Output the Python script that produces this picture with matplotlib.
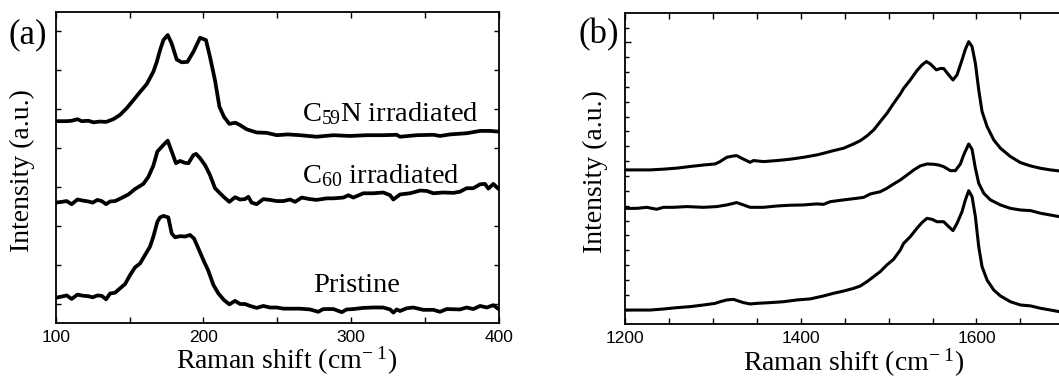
import matplotlib
matplotlib.use("Agg")
import matplotlib.pyplot as plt
from matplotlib.ticker import MultipleLocator, FixedLocator

plt.rcParams['font.family'] = ['Liberation Serif', 'DejaVu Serif']
plt.rcParams['mathtext.fontset'] = 'custom'
plt.rcParams['mathtext.rm'] = 'Liberation Serif'
plt.rcParams['mathtext.it'] = 'Liberation Serif:italic'
plt.rcParams['mathtext.bf'] = 'Liberation Serif:bold'

# ---------------- Panel (a): low-frequency Raman ----------------
a_c59n_x = [100, 107.4, 110.8, 114.7, 117.6, 122.1, 125.5, 130, 134.1, 139, 143.5, 148, 152.6,
            157.1, 161.6, 166.1, 168.4, 170.6, 172.9, 175.8, 178.5, 181.9, 185.3, 189.1, 193.2,
            197.7, 201.7, 204.4, 207.8, 210.8, 213.9, 217.5, 221.6, 224.7, 229.3, 236, 242.8,
            249.6, 257, 265.3, 276.6, 287.9, 299, 310.5, 321.7, 330.8, 333, 344.3, 355.6, 360.1,
            366.9, 378.1, 387.2, 393.9, 400]
a_c59n_y = [4.69, 4.69, 4.70, 4.74, 4.69, 4.70, 4.66, 4.68, 4.67, 4.74, 4.85, 5.02, 5.23,
            5.44, 5.64, 5.96, 6.21, 6.51, 6.77, 6.90, 6.68, 6.27, 6.20, 6.21, 6.47,
            6.83, 6.77, 6.34, 5.74, 5.06, 4.80, 4.62, 4.65, 4.59, 4.48, 4.40, 4.39,
            4.33, 4.35, 4.33, 4.29, 4.33, 4.31, 4.33, 4.33, 4.34, 4.29, 4.33, 4.34, 4.31,
            4.35, 4.38, 4.44, 4.44, 4.42]

a_c60_x = [100, 104.1, 107.4, 110.8, 114.7, 118.7, 122.1, 125.0, 128.2, 131.1, 134.1, 136.8,
           140.2, 143.5, 149.2, 153.7, 159.3, 162.7, 166.1, 168.8, 171.7, 175.8, 178.5, 181.4,
           184.1, 187.5, 189.8, 193.2, 195.0, 197.7, 201.1, 204.4, 207.8, 211.2, 213.9, 217.5,
           221.4, 224.7, 228.1, 230.4, 232.6, 236.0, 240.5, 245.0, 249.6, 254.1, 258.6, 262.0,
           266.5, 272.1, 276.6, 283.4, 287.9, 294.7, 298.1, 301.4, 308.2, 315.0, 321.7, 326.3,
           328.5, 333.0, 339.8, 346.6, 351.1, 355.6, 362.3, 369.1, 373.6, 378.1, 382.6, 387.2,
           390.5, 392.8, 396.2, 400.0]
a_c60_y = [2.60, 2.62, 2.64, 2.56, 2.68, 2.65, 2.63, 2.60, 2.67, 2.64, 2.56, 2.63,
           2.64, 2.70, 2.81, 2.95, 3.08, 3.26, 3.55, 3.91, 4.03, 4.19, 3.91, 3.61,
           3.67, 3.62, 3.61, 3.82, 3.85, 3.74, 3.56, 3.31, 2.97, 2.84, 2.74, 2.62,
           2.74, 2.68, 2.69, 2.75, 2.60, 2.56, 2.69, 2.67, 2.64, 2.64, 2.68, 2.62,
           2.73, 2.69, 2.67, 2.71, 2.71, 2.73, 2.79, 2.73, 2.84, 2.84, 2.86, 2.79,
           2.68, 2.81, 2.84, 2.91, 2.90, 2.84, 2.86, 2.85, 2.88, 2.97, 2.97, 3.07,
           3.08, 2.96, 3.08, 2.94]

a_pri_x = [100, 104.1, 107.4, 110.8, 114.7, 118.7, 122.1, 125.0, 128.2, 131.1, 134.1, 136.8,
           140.2, 143.5, 146.9, 150.3, 153.7, 157.1, 160.5, 163.8, 166.1, 168.8, 170.6, 172.9,
           176.2, 178.5, 180.8, 184.1, 187.5, 190.9, 193.6, 196.5, 199.9, 203.3, 206.7, 210.1,
           213.9, 217.5, 221.4, 224.7, 228.1, 231.5, 236.0, 240.5, 245.0, 249.6, 254.1, 260.8,
           265.3, 272.1, 277.7, 281.1, 287.9, 293.6, 296.9, 301.4, 308.2, 315.0, 321.7, 326.3,
           328.5, 330.8, 333.0, 337.5, 342.0, 348.8, 355.6, 360.1, 364.6, 373.6, 378.1, 382.6,
           387.2, 391.7, 396.2, 400.0]
a_pri_y = [0.16, 0.19, 0.22, 0.13, 0.24, 0.21, 0.20, 0.17, 0.22, 0.21, 0.12, 0.27,
           0.29, 0.40, 0.51, 0.74, 0.94, 1.04, 1.26, 1.47, 1.73, 2.11, 2.22, 2.26,
           2.22, 1.81, 1.71, 1.74, 1.73, 1.77, 1.68, 1.43, 1.13, 0.85, 0.49, 0.27,
           0.10, -0.01, 0.08, 0.00, 0.00, -0.05, -0.10, -0.05, -0.09, -0.09, -0.12, -0.12,
           -0.12, -0.14, -0.20, -0.13, -0.13, -0.21, -0.14, -0.13, -0.10, -0.09, -0.09, -0.14,
           -0.22, -0.14, -0.18, -0.11, -0.09, -0.15, -0.15, -0.20, -0.13, -0.14, -0.09, -0.13,
           -0.05, -0.09, -0.03, -0.14]

# ---------------- Panel (b): D/G band region ----------------
b_top_x = [1200, 1213.3, 1228.5, 1243.7, 1258.9, 1274.1, 1289.3, 1302.5, 1308.2, 1315.8, 1323.4,
           1327.2, 1332.9, 1342.4, 1346.2, 1357.6, 1372.8, 1388.0, 1403.2, 1418.4, 1426.0, 1437.4,
           1448.8, 1460.2, 1467.8, 1475.4, 1483.0, 1490.5, 1498.1, 1505.7, 1513.3, 1517.1, 1524.7,
           1532.3, 1538.0, 1543.0, 1547.5, 1554.4, 1558.9, 1562.7, 1568.4, 1573.3, 1577.9, 1583.6,
           1587.4, 1591.2, 1595.0, 1598.8, 1602.6, 1606.4, 1612.1, 1619.7, 1627.3, 1638.7, 1650.1,
           1661.5, 1672.9, 1684.3, 1694.5, 1700]
b_top_y = [9.41, 9.41, 9.41, 9.46, 9.53, 9.64, 9.74, 9.81, 9.97, 10.26, 10.35,
           10.37, 10.19, 9.92, 10.04, 9.97, 10.04, 10.13, 10.26, 10.42, 10.53, 10.71,
           10.87, 11.16, 11.38, 11.70, 12.10, 12.66, 13.22, 13.89, 14.52, 14.90, 15.47,
           16.10, 16.48, 16.71, 16.55, 16.15, 16.24, 16.24, 15.81, 15.47, 15.81, 16.82,
           17.54, 18.05, 17.72, 16.59, 14.80, 13.34, 12.33, 11.43, 10.87, 10.31, 9.90,
           9.68, 9.52, 9.41, 9.34, 9.32]

b_mid_x = [1200, 1213.3, 1224.7, 1236.1, 1243.7, 1255.1, 1270.3, 1289.3, 1304.4, 1315.8, 1327.2,
           1334.8, 1342.4, 1357.6, 1372.8, 1388.0, 1403.2, 1418.4, 1426.0, 1433.6, 1448.8, 1464.0,
           1471.6, 1479.2, 1490.5, 1498.1, 1505.7, 1513.3, 1520.9, 1528.5, 1536.1, 1543.7, 1551.3,
           1557.0, 1562.7, 1570.3, 1576.0, 1581.7, 1585.5, 1591.2, 1595.0, 1598.8, 1602.6, 1608.4,
           1615.9, 1627.3, 1638.7, 1650.1, 1661.5, 1672.9, 1684.3, 1694.5, 1700]
b_mid_y = [6.82, 6.82, 6.89, 6.76, 6.89, 6.89, 6.94, 6.89, 6.94, 7.05, 7.21,
           7.05, 6.89, 6.89, 6.98, 7.03, 7.05, 7.12, 7.09, 7.27, 7.39, 7.50,
           7.56, 7.79, 7.94, 8.17, 8.46, 8.73, 9.06, 9.40, 9.68, 9.81, 9.79,
           9.74, 9.63, 9.36, 9.36, 9.81, 10.42, 11.16, 10.80, 9.52, 8.51, 7.83,
           7.39, 7.05, 6.82, 6.71, 6.67, 6.49, 6.37, 6.26, 6.24]

b_bot_x = [1200, 1213.3, 1228.5, 1243.7, 1258.9, 1274.1, 1289.3, 1302.5, 1308.2, 1315.8, 1323.4,
           1329.1, 1334.8, 1342.4, 1350.0, 1365.2, 1380.4, 1395.6, 1410.8, 1426.0, 1437.4, 1448.8,
           1460.2, 1467.8, 1475.4, 1483.0, 1490.5, 1498.1, 1505.7, 1513.3, 1517.1, 1524.7, 1532.3,
           1538.0, 1543.7, 1549.4, 1555.1, 1562.7, 1568.4, 1573.3, 1577.9, 1583.6, 1587.4, 1591.2,
           1595.0, 1598.8, 1602.6, 1606.4, 1612.1, 1619.7, 1627.3, 1638.7, 1650.1, 1661.5, 1672.9,
           1684.3, 1694.5, 1700]
b_bot_y = [-0.03, -0.03, -0.03, 0.04, 0.13, 0.20, 0.31, 0.42, 0.53, 0.65, 0.69,
           0.58, 0.47, 0.38, 0.42, 0.47, 0.53, 0.65, 0.72, 0.92, 1.10, 1.25,
           1.43, 1.59, 1.88, 2.22, 2.56, 3.01, 3.39, 4.01, 4.46, 4.91, 5.48,
           5.86, 6.15, 6.08, 5.92, 5.92, 5.59, 5.32, 5.81, 6.60, 7.39, 8.01,
           7.61, 6.26, 4.24, 2.89, 1.99, 1.32, 0.92, 0.53, 0.31, 0.25, 0.09,
           -0.03, -0.14, -0.16]

a_labels = ['C$_{\\mathregular{59}}$N irradiated', 'C$_{\\mathregular{60}}$ irradiated', 'Pristine']
a_xticks = [100, 200, 300, 400]
b_xticks = [1200, 1400, 1600]

W, H = 1059, 378
fig = plt.figure(figsize=(W / 100, H / 100), dpi=100)

def frac(x0, x1, ytop, ybot):
    return [x0 / W, 1 - ybot / H, (x1 - x0) / W, (ybot - ytop) / H]

axa = fig.add_axes(frac(55.7, 499.0, 12.0, 322.7))
axb = fig.add_axes(frac(625.0, 1064.3, 12.7, 324.0))

lw_a = 2.7
lw_b = 2.2
for xs, ys in [(a_c59n_x, a_c59n_y), (a_c60_x, a_c60_y), (a_pri_x, a_pri_y)]:
    axa.plot(xs, ys, color='black', lw=lw_a, solid_joinstyle='round', solid_capstyle='butt')
for xs, ys in [(b_top_x, b_top_y), (b_mid_x, b_mid_y), (b_bot_x, b_bot_y)]:
    axb.plot(xs, ys, color='black', lw=lw_b, solid_joinstyle='round', solid_capstyle='butt')

axa.set_xlim(100, 400)
axa.set_ylim(-0.48, 7.49)
axb.set_xlim(1200, 1700)
axb.set_ylim(-0.97, 20.0)

tick_font = {'family': ['Liberation Sans', 'DejaVu Sans'], 'size': 12.5}
for ax, xt in [(axa, a_xticks), (axb, b_xticks)]:
    for s in ax.spines.values():
        s.set_linewidth(1.3)
    ax.set_xticks(xt)
    ax.set_xticklabels([str(v) for v in xt], fontdict=tick_font)
    ax.xaxis.set_minor_locator(MultipleLocator(50))
    ax.tick_params(axis='x', which='both', direction='in', top=True, bottom=True,
                   length=4.5, width=1.0, pad=5)

axa.set_yticks(range(0, 8))
axa.set_yticklabels([])
axa.tick_params(axis='y', which='both', direction='in', left=True, right=True,
                length=3.5, width=1.0)

axb.yaxis.set_major_locator(FixedLocator([18]))
axb.yaxis.set_minor_locator(FixedLocator([v for v in range(0, 20) if v != 18]))
axb.set_yticklabels([])
axb.tick_params(axis='y', which='major', direction='in', left=True, right=False,
                length=4.5, width=1.0)
axb.tick_params(axis='y', which='minor', direction='in', left=True, right=False,
                length=2.8, width=1.0)

lab_fs = 20
for ax, ylx in [(axa, -0.047), (axb, -0.039)]:
    ax.set_xlabel('Raman shift (cm$^{\\mathregular{-\\ 1}}$)', fontsize=lab_fs)
    ax.set_ylabel('Intensity (a.u.)', fontsize=lab_fs)
    ax.xaxis.set_label_coords(0.521, -0.072)
    ax.yaxis.set_label_coords(ylx, 0.49)

ann_fs = 20.5
axa.text(266.7, 4.70, a_labels[0], fontsize=ann_fs, ha='left', va='baseline')
axa.text(266.7, 3.11, a_labels[1], fontsize=ann_fs, ha='left', va='baseline')
axa.text(274.1, 0.315, a_labels[2], fontsize=ann_fs, ha='left', va='baseline')

fig.text(8 / W, 1 - 35 / H, '(a)', fontsize=25, ha='left', va='center')
fig.text(579 / W, 1 - 35 / H, '(b)', fontsize=25, ha='left', va='center')

fig.savefig('out.png', dpi=100)
